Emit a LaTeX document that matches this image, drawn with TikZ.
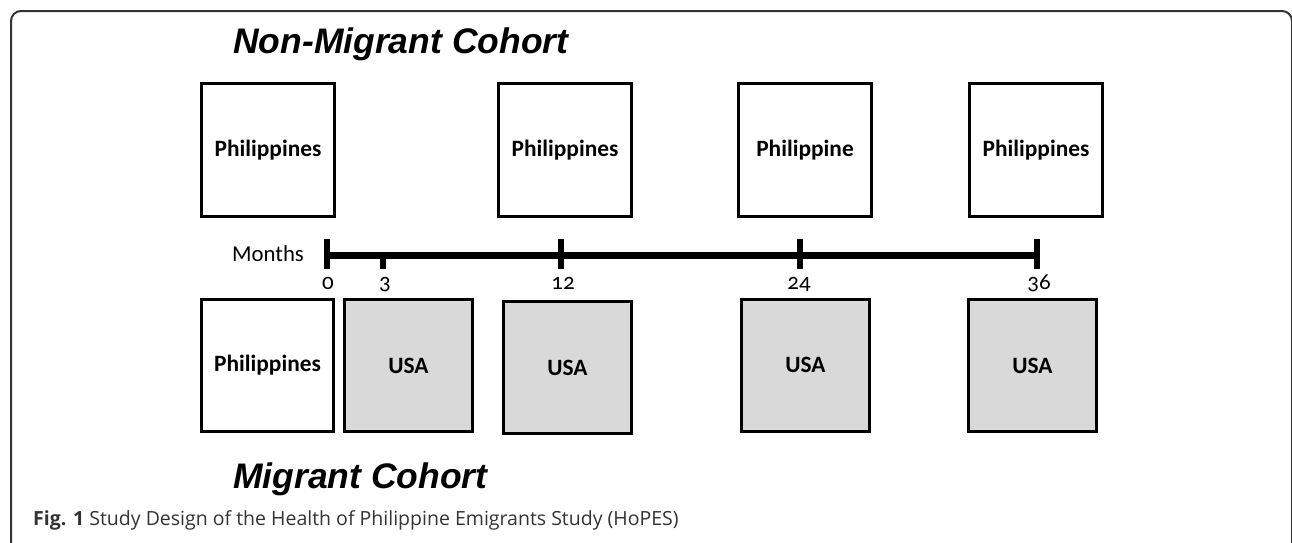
\documentclass[tikz,border=0pt]{standalone}
\usepackage{fontspec}
\setmainfont{Carlito}
\newfontfamily\headfont{Liberation Sans}
\newfontfamily\capfont{Open Sans}
\newfontfamily\numfont[Numbers=OldStyle]{Carlito}
\usetikzlibrary{positioning}

\begin{document}
\begin{tikzpicture}[x=1pt,y=-1pt]
\tikzset{site/.style={rectangle,draw,line width=3pt,minimum width=133pt,minimum height=133pt,inner sep=0pt,font=\fontsize{23.4}{28}\selectfont\bfseries}}
\tikzset{usa/.style={site,fill=black!15,minimum width=128pt,minimum height=132pt}}
\tikzset{cohort/.style={anchor=base west,inner sep=0pt,font=\headfont\fontsize{35.5}{40}\selectfont\bfseries\itshape}}
\tikzset{month/.style={anchor=base,inner sep=0pt,font=\numfont\fontsize{23}{26}\selectfont}}
\tikzset{tick/.style={line width=6pt}}
\useasboundingbox (0,0) rectangle (1292,542);
\begin{scope}
\clip (0,0) rectangle (1292,542);
\draw[line width=2pt,black!80,rounded corners=10pt] (11,11) rectangle (1292,620);
\end{scope}
% non-migrant cohort
\node[cohort] (nonmig) at (233,53) {Non-Migrant Cohort};
\node[site] (np0) at (268,150) {Philippines};
\node[site] (np12) at (565,150) {Philippines};
\node[site] (np24) at (805,150) {Philippine};
\node[site] (np36) at (1036,150) {Philippines};
% timeline
\node[font=\fontsize{22.8}{26}\selectfont] (months) at (268,254) {Months};
\coordinate (t0) at (327,255);
\coordinate (t36) at (1037,255);
\draw[line width=7pt] (t0) -- (t36);
\foreach \x in {327,561,800,1037}
  \draw[tick] (\x,239) -- (\x,269);
\draw[tick] (383,255) -- (383,269);
\foreach \m/\x in {0/328,3/385,12/563,24/799,36/1039}
  \node[month] (lab\m) at (\x,289) {\m};
% migrant cohort
\node[site,minimum width=132pt,minimum height=132pt] (mp0) at (267.5,365.5) {Philippines};
\node[usa] (mu3) at (408.5,365.5) {USA};
\node[usa] (mu12) at (567.5,367.5) {USA};
\node[usa] (mu24) at (805.5,365) {USA};
\node[usa] (mu36) at (1032.5,365.5) {USA};
\node[cohort] (mig) at (233,488) {Migrant Cohort};
% caption
\node[anchor=base west,inner sep=0pt,font=\capfont\fontsize{19.5}{23}\selectfont,text=black!80] (caption) at (33,525) {\textbf{Fig. 1} Study Design of the Health of Philippine Emigrants Study (HoPES)};
\end{tikzpicture}
\end{document}
